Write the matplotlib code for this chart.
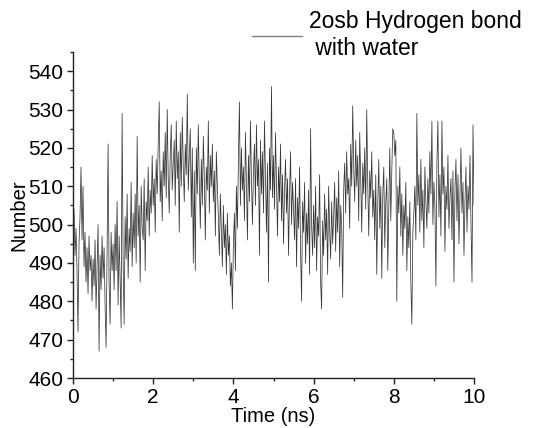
import numpy as np
import matplotlib
matplotlib.use("Agg")
import matplotlib.pyplot as plt
from matplotlib.ticker import MultipleLocator

hbond_counts = [
    500, 504, 492, 499, 488, 472, 495, 502, 515, 496, 510, 489, 498, 485, 494, 482, 497, 488, 492, 480,
    491, 484, 496, 478, 489, 500, 467, 492, 483, 497, 486, 494, 479, 468, 493, 521, 485, 474, 498, 488,
    495, 483, 500, 488, 506, 479, 497, 486, 473, 529, 490, 474, 502, 491, 508, 486, 499, 493, 511, 489,
    503, 494, 508, 490, 523, 497, 505, 485, 510, 499, 496, 512, 488, 506, 501, 515, 497, 509, 503, 518,
    505, 512, 498, 517, 508, 521, 532, 506, 514, 501, 519, 510, 524, 507, 530, 512, 503, 518, 526, 509,
    516, 522, 505, 527, 512, 519, 498, 524, 510, 528, 515, 506, 521, 513, 534, 509, 518, 525, 502, 520,
    490, 514, 488, 520, 508, 526, 511, 499, 517, 505, 523, 512, 496, 515, 509, 527, 503, 518, 510, 521,
    506, 514, 497, 519, 510, 502, 492, 508, 498, 489, 505, 494, 500, 487, 503, 492, 497, 484, 490, 478,
    495, 503, 488, 510, 499, 517, 532, 505, 520, 509, 515, 501, 524, 511, 496, 518, 506, 527, 512, 500,
    514, 521, 505, 526, 510, 517, 492, 522, 508, 519, 503, 527, 512, 498, 516, 485, 520, 509, 536, 507,
    518, 504, 524, 511, 497, 515, 506, 521, 501, 513, 495, 509, 517, 503, 512, 492, 508, 519, 500, 511,
    504, 496, 512, 489, 507, 499, 515, 493, 480, 506, 498, 511, 490, 503, 495, 509, 487, 525, 500, 492,
    505, 494, 510, 488, 502, 497, 513, 485, 478, 501, 492, 508, 496, 504, 487, 510, 499, 491, 506, 495,
    502, 511, 493, 507, 498, 514, 489, 505, 500, 481, 509, 516, 503, 519, 508, 512, 499, 521, 510, 531,
    515, 506, 522, 510, 518, 501, 524, 512, 498, 516, 508, 520, 504, 530, 511, 497, 514, 507, 519, 502,
    509, 496, 513, 487, 505, 517, 499, 510, 486, 508, 515, 494, 506, 512, 488, 504, 520, 501, 514, 525,
    524, 518, 522, 480, 510, 503, 515, 497, 508, 492, 505, 499, 511, 488, 502, 494, 506, 485, 474, 498,
    503, 510, 496, 529, 505, 513, 498, 517, 501, 509, 494, 515, 506, 499, 512, 503, 519, 508, 527, 500,
    511, 505, 484, 516, 527, 502, 513, 497, 527, 508, 515, 493, 510, 504, 518, 499, 507, 512, 496, 514,
    485, 509, 517, 501, 513, 495, 508, 520, 503, 511, 492, 506, 515, 498, 510, 504, 518, 500, 485, 526,
    505,
]
time_ns = np.linspace(0, 10, len(hbond_counts))

series_label = "2osb Hydrogen bond\n with water"
x_label = "Time (ns)"
y_label = "Number"
y_ticks = [460, 470, 480, 490, 500, 510, 520, 530, 540]
x_ticks = [0, 2, 4, 6, 8, 10]

plt.rcParams['font.family'] = ['Liberation Sans', 'DejaVu Sans']

fig = plt.figure(figsize=(5.33, 4.28), dpi=100)
ax = fig.add_axes([73/533, 1 - 378/428, (474 - 73)/533, (378 - 52)/428])

ax.plot(time_ns, hbond_counts, color='#383838', lw=0.55, label=series_label)

ax.set_xlim(0, 10)
ax.set_ylim(460, 545)
ax.set_xticks(x_ticks)
ax.set_yticks(y_ticks)
ax.xaxis.set_minor_locator(MultipleLocator(1))
ax.yaxis.set_minor_locator(MultipleLocator(5))

for s in ['top', 'right']:
    ax.spines[s].set_visible(False)
for s in ['left', 'bottom']:
    ax.spines[s].set_linewidth(1.0)
    ax.spines[s].set_color('#222222')

ax.tick_params(axis='both', which='major', direction='out', length=4, width=1.0,
               labelsize=15, colors='#222222', labelcolor='black')
ax.tick_params(axis='x', which='major', pad=3.5)
ax.tick_params(axis='y', which='major', pad=3)
ax.tick_params(axis='both', which='minor', direction='out', length=2.5, width=1.0, colors='#222222')

ax.set_xlabel(x_label, fontsize=14.5, labelpad=0)
ax.set_ylabel(y_label, fontsize=14.5, labelpad=0)

leg = ax.legend(loc='upper left', bbox_to_anchor=(252/533, 1 - 10/428),
                bbox_transform=fig.transFigure, frameon=False, fontsize=16.5,
                handlelength=2.2, handletextpad=0.3, borderaxespad=0, borderpad=0,
                labelspacing=0.2)
for h in leg.get_lines():
    h.set_color('#808080')
    h.set_linewidth(1.0)

fig.savefig('out.png', dpi=100)
